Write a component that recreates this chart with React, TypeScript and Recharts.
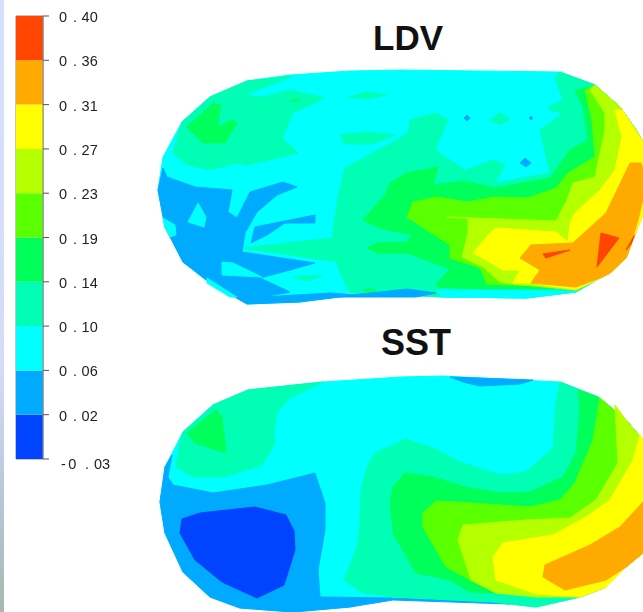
import { Bar, BarChart, ReferenceArea, Scatter, ScatterChart, XAxis, YAxis } from "recharts";

type Pt = [number, number];

// contour level colours, low to high
const DEEP = "#0044ff";
const BLUE = "#00aaff";
const CYAN = "#00ffff";
const AQUA = "#00ffb4";
const SPRING = "#00ff5a";
const LIME = "#5aff00";
const CHART = "#b4ff00";
const YELLOW = "#ffff00";
const ORANGE = "#ffaa00";
const RED = "#ff4500";

const legendColors = [DEEP, BLUE, CYAN, AQUA, SPRING, LIME, CHART, YELLOW, ORANGE, RED];
const legendLabels = ["-0.03", "0.02", "0.06", "0.10", "0.14", "0.19", "0.23", "0.27", "0.31", "0.36", "0.40"];

// LDV surface, in picture units
const ldvOutline: Pt[] = [[158,190],[163,157],[182,122],[210,97],[247,81],[290,75],[350,71],[400,70],[560,72],[595,85],[620,107],[636,130],[643,142],[643,213],[626,258],[610,273],[600,278],[576,292],[526,298],[443,297],[400,295],[350,293],[300,302],[247,304],[210,283],[183,262],[165,227]];
const ldvAquaLeft: Pt[] = [[182,122],[210,97],[247,81],[293,76],[245,95],[263,97],[290,90],[325,98],[293,113],[282,138],[298,153],[247,165],[237,163],[210,170],[187,165],[173,153]];
const ldvSpringLeft: Pt[] = [[187,127],[213,103],[221,105],[217,127],[233,120],[237,123],[225,143],[203,143]];
const ldvSpringDot: Pt[] = [[290,100],[300,100],[295,102]];
const ldvAquaTop: Pt[] = [[348,97],[367,92],[387,95],[367,99]];
const ldvAquaMid: Pt[] = [[340,135],[367,132],[395,135],[373,144],[345,144]];
const ldvAquaLow: Pt[] = [[293,277],[323,275],[307,281]];
const ldvAquaBig: Pt[] = [[345,168],[393,142],[408,133],[410,120],[436,113],[448,120],[435,150],[465,170],[493,160],[505,165],[495,183],[550,173],[540,130],[563,113],[550,110],[548,107],[563,100],[555,78],[560,72],[595,85],[620,107],[636,130],[643,142],[643,213],[626,258],[610,273],[600,278],[576,292],[526,298],[443,297],[400,295],[350,293],[340,273],[337,262],[243,248],[332,238],[338,197]];
const ldvSpring: Pt[] = [[363,220],[385,195],[390,183],[407,173],[438,167],[433,185],[465,181],[495,188],[550,178],[570,150],[588,140],[583,107],[575,90],[593,87],[620,107],[636,130],[643,142],[643,213],[626,258],[610,273],[600,278],[573,288],[490,290],[437,287],[437,283],[450,269],[407,253],[378,253],[367,248],[377,243],[407,242],[412,235],[380,228]];
const ldvSpringSpot: Pt[] = [[363,291],[369,288],[376,291]];
const ldvLime: Pt[] = [[407,217],[413,202],[437,197],[467,202],[495,197],[528,198],[556,188],[568,173],[595,157],[592,120],[585,90],[595,85],[620,107],[636,130],[643,142],[643,213],[626,258],[610,273],[600,278],[576,290],[566,287],[487,284],[480,268],[450,258],[450,245]];
const ldvChart: Pt[] = [[447,217],[556,221],[567,200],[573,183],[595,177],[605,130],[605,113],[590,90],[595,85],[620,107],[636,130],[643,142],[643,213],[626,258],[610,273],[600,278],[576,290],[513,284],[500,282],[483,267],[462,257],[468,233],[468,218]];
const ldvYellow: Pt[] = [[473,253],[490,233],[496,228],[556,232],[568,242],[570,223],[575,213],[600,190],[615,170],[622,137],[615,110],[622,110],[643,142],[643,213],[626,258],[610,273],[600,278],[576,290],[531,283],[513,283],[520,270],[503,270],[486,260]];
const ldvOrange: Pt[] = [[520,258],[531,245],[573,243],[606,213],[630,163],[641,163],[643,170],[643,213],[626,258],[610,273],[600,278],[576,287],[531,283],[540,270]];
const ldvYellowEdge: Pt[] = [[643,203],[643,215],[635,234],[640,216]];
const ldvRedA: Pt[] = [[601,233],[619,238],[597,267]];
const ldvRedB: Pt[] = [[543,254],[570,250],[546,258]];
const ldvRedC: Pt[] = [[634,236],[631,244],[626,250]];
const ldvBlue: Pt[] = [[163,168],[167,177],[195,187],[232,190],[228,212],[237,218],[250,192],[283,182],[297,187],[277,195],[257,212],[245,233],[242,252],[315,263],[290,270],[260,278],[290,292],[262,297],[330,293],[357,295],[300,302],[247,304],[210,283],[183,262],[165,227],[158,190]];
const ldvHoleA: Pt[] = [[198,203],[206,217],[204,227],[188,222]];
const ldvHoleB: Pt[] = [[163,218],[175,225],[176,235],[170,237],[165,227]];
const ldvHoleC: Pt[] = [[222,262],[233,263],[262,277],[222,275]];
const ldvHoleD: Pt[] = [[207,278],[237,297],[230,297],[207,283]];
const ldvBlueIsland: Pt[] = [[255,227],[315,215],[315,223],[285,223],[267,235],[251,243]];
const ldvBlueRim: Pt[] = [[340,296],[380,292],[407,289],[436,293],[416,297],[340,297]];
const ldvCyanRim: Pt[] = [[436,290],[520,290],[576,292],[526,298],[443,297]];
const ldvSpeckA: Pt[] = [[525,158],[531,163],[526,167],[520,163]];
const ldvSpeckB: Pt[] = [[467,115],[470,118],[467,121],[464,118]];
const ldvSpeckC: Pt[] = [[531,116],[533,118],[531,120],[529,118]];
const ldvAquaSpeck: Pt[] = [[490,120],[500,113],[510,119],[500,125]];

// SST surface
const sstOutline: Pt[] = [[160,502],[165,467],[183,432],[213,405],[248,390],[323,382],[400,377],[443,376],[560,382],[598,397],[626,420],[643,440],[643,553],[626,567],[606,587],[580,597],[536,607],[493,602],[393,597],[350,607],[293,612],[240,608],[210,597],[183,572],[165,533]];
const sstBlue: Pt[] = [[172,455],[168,477],[173,485],[213,493],[267,485],[315,473],[325,503],[325,530],[318,570],[320,597],[393,598],[470,601],[510,604],[393,600],[350,607],[293,612],[240,608],[210,597],[183,572],[165,533],[160,502],[165,467]];
const sstDeep: Pt[] = [[182,519],[200,513],[255,507],[286,515],[294,531],[295,550],[284,585],[257,598],[222,582],[195,560],[180,533]];
const sstAquaLeft: Pt[] = [[183,432],[213,405],[248,390],[323,382],[290,398],[277,412],[274,432],[275,443],[262,465],[225,477],[193,477],[176,467],[180,443]];
const sstSpringLeft: Pt[] = [[187,433],[216,410],[222,417],[226,453],[195,443]];
const sstAqua: Pt[] = [[400,442],[375,453],[367,467],[361,490],[360,523],[357,547],[344,580],[363,593],[393,597],[493,602],[536,607],[580,597],[606,587],[626,567],[643,553],[643,440],[626,420],[598,397],[560,382],[556,403],[553,448],[526,472],[500,475],[460,462],[433,448],[405,439]];
const sstSpring: Pt[] = [[390,503],[393,487],[405,473],[433,477],[465,487],[500,493],[530,492],[563,477],[576,453],[580,407],[578,390],[598,397],[626,420],[643,440],[643,553],[626,567],[606,587],[580,597],[470,592],[450,580],[416,573],[393,533],[393,527]];
const sstLime: Pt[] = [[423,513],[436,501],[470,503],[530,507],[560,500],[575,483],[593,440],[600,398],[626,420],[643,440],[643,553],[626,567],[606,587],[580,597],[496,593],[470,580],[446,567],[423,527]];
const sstChart: Pt[] = [[458,540],[463,525],[526,520],[570,518],[596,500],[618,463],[615,405],[626,420],[643,440],[643,553],[626,567],[606,587],[580,597],[536,597],[496,593],[471,580]];
const sstYellow: Pt[] = [[493,557],[503,543],[553,535],[586,517],[610,500],[633,460],[640,435],[643,440],[643,553],[626,567],[606,587],[580,597],[536,594],[496,580]];
const sstOrange: Pt[] = [[545,565],[590,545],[620,527],[643,502],[643,553],[626,567],[606,580],[565,590],[543,577]];
const sstBlueTop: Pt[] = [[450,377],[533,380],[520,384],[480,386],[463,382]];

const layers: [Pt[], string][] = [
  [ldvOutline, CYAN],
  [ldvAquaLeft, AQUA],
  [ldvSpringLeft, SPRING],
  [ldvSpringDot, SPRING],
  [ldvAquaTop, AQUA],
  [ldvAquaMid, AQUA],
  [ldvAquaLow, AQUA],
  [ldvAquaBig, AQUA],
  [ldvSpring, SPRING],
  [ldvSpringSpot, SPRING],
  [ldvLime, LIME],
  [ldvChart, CHART],
  [ldvYellow, YELLOW],
  [ldvOrange, ORANGE],
  [ldvYellowEdge, YELLOW],
  [ldvRedA, RED],
  [ldvRedB, RED],
  [ldvRedC, RED],
  [ldvBlue, BLUE],
  [ldvHoleA, CYAN],
  [ldvHoleB, CYAN],
  [ldvHoleC, CYAN],
  [ldvHoleD, CYAN],
  [ldvBlueIsland, BLUE],
  [ldvCyanRim, CYAN],
  [ldvBlueRim, BLUE],
  [ldvSpeckA, BLUE],
  [ldvSpeckB, BLUE],
  [ldvSpeckC, BLUE],
  [ldvAquaSpeck, AQUA],
  [sstOutline, CYAN],
  [sstBlue, BLUE],
  [sstDeep, DEEP],
  [sstAquaLeft, AQUA],
  [sstSpringLeft, SPRING],
  [sstAqua, AQUA],
  [sstSpring, SPRING],
  [sstLime, LIME],
  [sstChart, CHART],
  [sstYellow, YELLOW],
  [sstOrange, ORANGE],
  [sstBlueTop, BLUE],
];

const legendRow: Record<string, number | string> = { name: "scale" };
legendColors.forEach((_, i) => {
  legendRow[`band${i}`] = 1;
});

const toPoints = (pts: Pt[]) => [...pts, pts[0]].map(([x, y]) => ({ x, y }));

function LegendTick({ x, y, payload }: any) {
  const label = legendLabels[payload.value];
  const [whole, frac] = label.split(".");
  const negative = whole.startsWith("-");
  return (
    <text
      x={negative ? x + 10 : x + 8}
      y={y + (negative ? 6 : 2)}
      fontFamily="Liberation Sans"
      fontSize={14.5}
      fill="#222"
      dominantBaseline="middle"
    >
      <tspan letterSpacing={negative ? 2.5 : 0}>{whole}</tspan>
      <tspan dx={6}>.</tspan>
      <tspan dx={negative ? 5 : 4.5}>{frac}</tspan>
    </text>
  );
}

const Title = ({ text, x, y, size }: { text: string; x: number; y: number; size: number }) => (
  <div
    style={{
      position: "absolute",
      left: x,
      top: y,
      fontFamily: "Liberation Sans",
      fontWeight: "bold",
      fontSize: size,
      lineHeight: "40px",
      color: "#111",
    }}
  >
    {text}
  </div>
);

export default function App() {
  return (
    <div style={{ position: "absolute", left: 0, top: 0, width: 643, height: 612, overflow: "hidden", background: "#fff" }}>
      <div
        style={{
          position: "absolute",
          left: 0,
          top: 0,
          width: 4,
          height: 612,
          background: "linear-gradient(#d6dffb 0%, #d4dcf8 60%, #b8c8dc 80%, #a8b8b0 100%)",
        }}
      />
      <div style={{ position: "absolute", left: 0, top: 0, filter: "blur(0.5px)" }}>
        <ScatterChart width={643} height={612} margin={{ top: 0, right: 0, bottom: 0, left: 0 }}>
          <XAxis type="number" dataKey="x" domain={[0, 643]} hide />
          <YAxis type="number" dataKey="y" domain={[0, 612]} reversed hide />
          {layers.map(([pts, color], i) => (
            <Scatter
              key={i}
              data={toPoints(pts)}
              isAnimationActive={false}
              shape={() => null}
              line={{ fill: color, stroke: color, strokeWidth: 1 }}
              lineJointType="linear"
            />
          ))}
        </ScatterChart>
      </div>
      <div style={{ position: "absolute", left: 0, top: 0, filter: "blur(0.4px)" }}>
        <BarChart
          width={130}
          height={480}
          data={[legendRow]}
          barCategoryGap={0}
          margin={{ top: 16, right: 0, bottom: 21, left: 16 }}
        >
          <XAxis dataKey="name" hide />
          <YAxis
            orientation="right"
            type="number"
            domain={[0, 10]}
            ticks={[0, 1, 2, 3, 4, 5, 6, 7, 8, 9, 10]}
            width={87}
            tick={<LegendTick />}
            tickLine={{ stroke: "#555" }}
            tickSize={6}
            axisLine={{ stroke: "#888" }}
            interval={0}
          />
          {legendColors.map((color, i) => (
            <Bar key={color} dataKey={`band${i}`} stackId="scale" fill={color} isAnimationActive={false} />
          ))}
          <ReferenceArea y1={0} y2={10} fill="none" stroke="#888" />
        </BarChart>
      </div>
      <Title text="LDV" x={373} y={18} size={35} />
      <Title text="SST" x={381} y={323} size={36} />
    </div>
  );
}
